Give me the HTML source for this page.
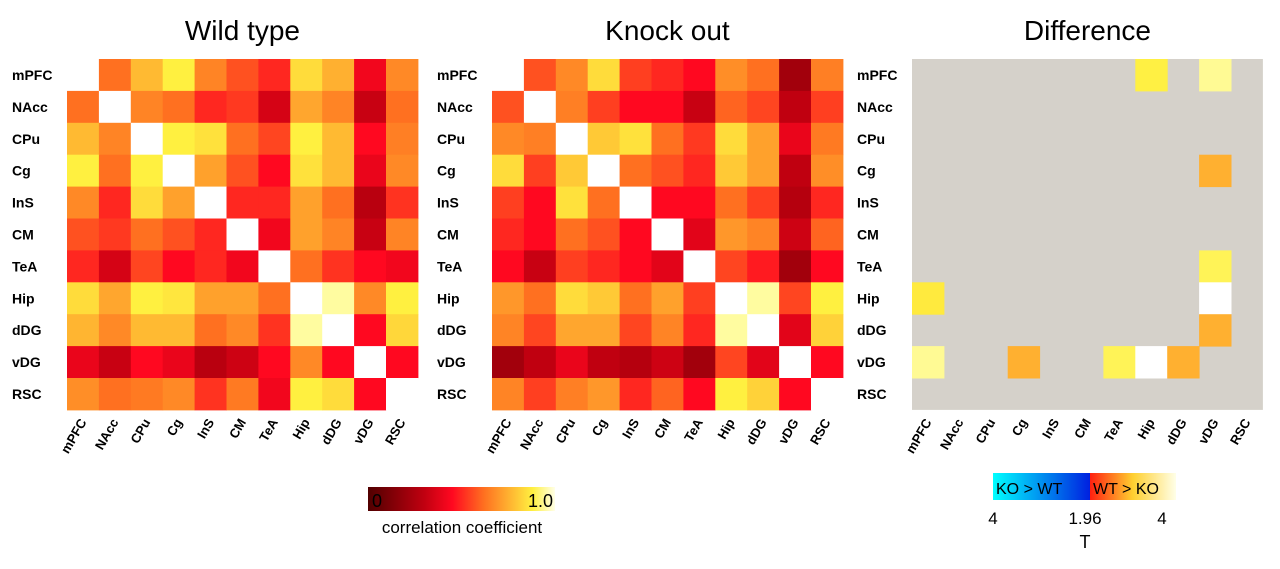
<!DOCTYPE html>
<html><head><meta charset="utf-8">
<style>
body{margin:0;background:#fff;width:1280px;height:564px;overflow:hidden;font-family:"Liberation Sans",Arial,sans-serif}
svg text{font-family:"Liberation Sans",Arial,sans-serif}
</style></head>
<body>
<svg id="chart" width="1280" height="564" xmlns="http://www.w3.org/2000/svg">
<defs>
<linearGradient id="heatGrad" x1="0" x2="1" y1="0" y2="0">
<stop offset="0" stop-color="#500000"/><stop offset="0.3" stop-color="#c00010"/><stop offset="0.45" stop-color="#ff0820"/>
<stop offset="0.62" stop-color="#ff7020"/><stop offset="0.88" stop-color="#fff040"/><stop offset="1" stop-color="#ffffe8"/>
</linearGradient>
<linearGradient id="koGrad" x1="0" x2="1"><stop offset="0" stop-color="#00ffff"/><stop offset="1" stop-color="#0020e0"/></linearGradient>
<linearGradient id="wtGrad" x1="0" x2="1"><stop offset="0" stop-color="#ff2010"/><stop offset="0.5" stop-color="#ffd030"/><stop offset="1" stop-color="#ffffe8"/></linearGradient>
</defs>
<g id="panels"></g>
<g>
<rect x="368" y="487" width="187" height="24" fill="url(#heatGrad)"/>
<text x="372" y="507" font-size="18">0</text>
<text x="553" y="507" font-size="18" text-anchor="end">1.0</text>
<text x="462" y="533" font-size="17" text-anchor="middle">correlation coefficient</text>
</g>
<g>
<rect x="993" y="473" width="97" height="27" fill="url(#koGrad)"/>
<rect x="1090" y="473" width="86" height="27" fill="url(#wtGrad)"/>
<text x="996" y="494" font-size="16">KO &gt; WT</text>
<text x="1093" y="494" font-size="16">WT &gt; KO</text>
<text x="993" y="524" font-size="17" text-anchor="middle">4</text>
<text x="1085" y="524" font-size="17" text-anchor="middle">1.96</text>
<text x="1162" y="524" font-size="17" text-anchor="middle">4</text>
<text x="1085" y="548" font-size="18" text-anchor="middle">T</text>
</g>
</svg>
<script>
const regions = ["mPFC","NAcc","CPu","Cg","InS","CM","TeA","Hip","dDG","vDG","RSC"];
const wtValues = [
[1,.62,.77,.88,.66,.57,.5,.84,.75,.42,.67],
[.62,1,.66,.62,.5,.53,.35,.73,.66,.32,.62],
[.77,.66,1,.88,.85,.62,.55,.88,.77,.45,.65],
[.88,.62,.88,1,.72,.57,.45,.85,.77,.4,.67],
[.67,.5,.84,.72,1,.5,.5,.72,.62,.28,.52],
[.57,.53,.62,.57,.5,1,.42,.72,.66,.32,.66],
[.5,.35,.55,.45,.5,.42,1,.62,.52,.45,.42],
[.84,.73,.88,.86,.72,.72,.62,1,.95,.67,.88],
[.76,.67,.77,.77,.62,.67,.52,.95,1,.45,.83],
[.4,.32,.45,.4,.28,.33,.45,.67,.45,1,.45],
[.68,.62,.64,.67,.52,.64,.42,.88,.84,.45,1]];
const koValues = [
[1,.57,.67,.84,.54,.5,.45,.68,.62,.22,.65],
[.57,1,.65,.54,.45,.45,.32,.6,.55,.3,.54],
[.67,.65,1,.8,.85,.62,.53,.84,.72,.4,.64],
[.84,.54,.8,1,.62,.57,.5,.8,.72,.3,.68],
[.54,.45,.85,.62,1,.45,.45,.62,.54,.27,.5],
[.5,.45,.62,.57,.45,1,.38,.7,.66,.33,.6],
[.45,.32,.54,.5,.45,.38,1,.55,.48,.22,.45],
[.7,.62,.84,.8,.62,.72,.54,1,.95,.55,.88],
[.66,.55,.73,.73,.55,.66,.5,.95,1,.38,.82],
[.22,.3,.4,.3,.27,.33,.22,.55,.38,1,.45],
[.66,.54,.65,.7,.5,.6,.45,.88,.82,.45,1]];
// significant differences: [row, col, T]
const diffCells = [[0,7,3.2],[0,9,3.6],[3,9,2.3],[6,9,3.3],[7,0,3.1],[7,9,4],[8,9,2.3],[9,0,3.6],[9,3,2.3],[9,6,3.3],[9,7,4],[9,8,2.3]];
const panelTitles = ["Wild type","Knock out","Difference"];
const panelX = [67,492,912];
const Y0 = 59, CELL = 31.9;

const heatStops=[[0,[80,0,0]],[.3,[192,0,16]],[.45,[255,8,32]],[.62,[255,112,32]],[.75,[255,176,48]],[.88,[255,240,64]],[.95,[255,252,160]],[1,[255,255,255]]];
function heatColor(v){
  for(let i=1;i<heatStops.length;i++){const [a,ca]=heatStops[i-1],[b,cb]=heatStops[i];
    if(v<=b){const t=(v-a)/(b-a);return `rgb(${ca.map((c,k)=>Math.round(c+(cb[k]-c)*t)).join(',')})`;}}
  return '#fff';
}
function tColor(t){
  const s=Math.min(1,Math.max(0,(t-1.96)/(4-1.96)));
  return heatColor(0.7+0.3*s);
}
const xPos=(p,c)=>panelX[p]+c*CELL, yPos=r=>Y0+r*CELL;
const NS='http://www.w3.org/2000/svg';
const root=document.getElementById('panels');
function mk(tag,attrs,parent){const e=document.createElementNS(NS,tag);for(const k in attrs)e.setAttribute(k,attrs[k]);parent.appendChild(e);return e;}
[wtValues,koValues,null].forEach((mat,p)=>{
  const g=mk('g',{},root);
  
  
  const t=mk('text',{x:panelX[p]+CELL*5.5,y:40,'font-size':28,'text-anchor':'middle'},g);
  t.textContent=panelTitles[p];
  
  
  if(p===2){
    const bg=mk('rect',{x:xPos(2,0),y:yPos(0),width:CELL*11,height:CELL*11,fill:'#d5d1ca'},g);
    
    
    diffCells.forEach(([r,c,tv])=>{
      const rc=mk('rect',{x:xPos(2,c),y:yPos(r),width:CELL+0.5,height:CELL+0.5,fill:tColor(tv)},g);
      
      
    });
  } else {
    mat.forEach((row,r)=>row.forEach((v,c)=>{
      const rc=mk('rect',{x:xPos(p,c),y:yPos(r),width:CELL+0.5,height:CELL+0.5,fill:heatColor(v)},g);
      
      
    }));
  }
  regions.forEach((name,i)=>{
    const rl=mk('text',{x:panelX[p]-55,y:yPos(i)+CELL/2+5,'font-size':14,'font-weight':'bold'},g);
    rl.textContent=name;
    
    
    const cx=xPos(p,i)+CELL/2+4, cy=422;
    const cl=mk('text',{x:cx,y:cy,'font-size':13,'font-weight':'bold','text-anchor':'end',transform:`rotate(-60 ${cx} ${cy})`},g);
    cl.textContent=name;
    
    
  });
});
</script>
</body></html>
